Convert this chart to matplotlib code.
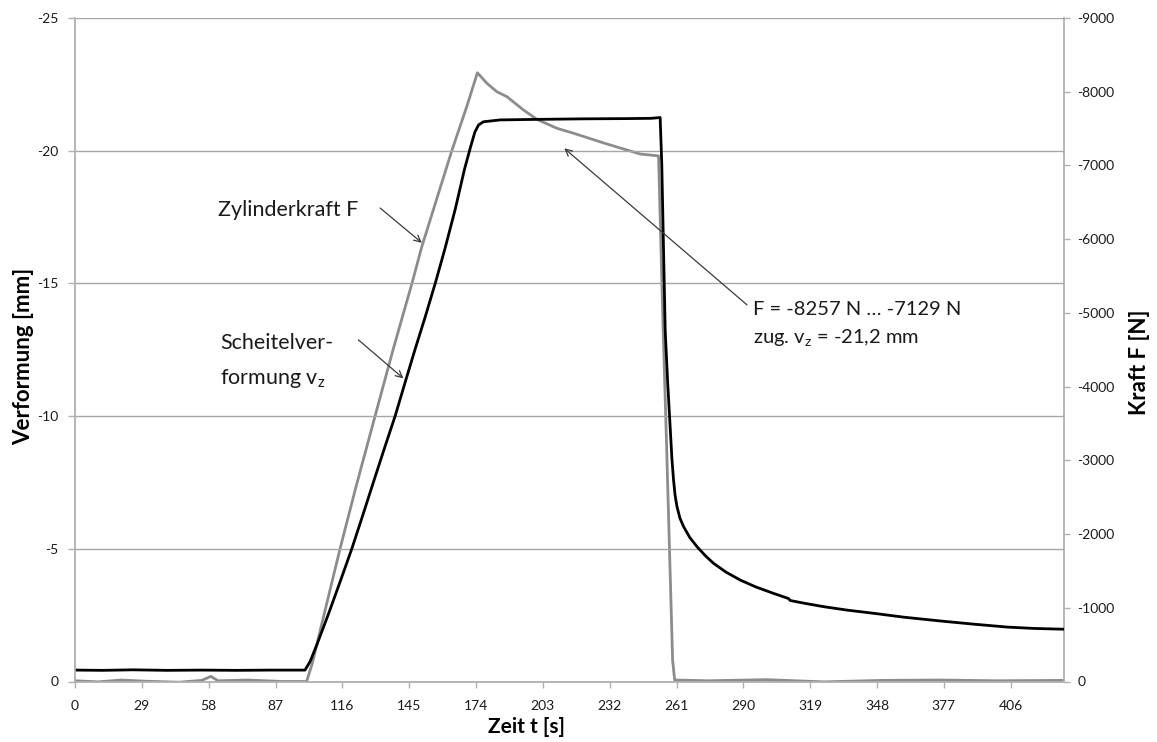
import matplotlib.pyplot as plt

plt.rcParams['font.family'] = ['Lato', 'DejaVu Sans']
plt.rcParams['mathtext.fontset'] = 'custom'
plt.rcParams['mathtext.rm'] = 'Lato'
plt.rcParams['mathtext.it'] = 'Lato'
plt.rcParams['axes.unicode_minus'] = False

# Scheitelverformung v_z [mm] (black, left axis)
t_vz = [0, 12, 25, 40, 55, 70, 85, 99.8, 102, 105, 110, 115, 120.1, 125, 130, 134.5, 138.9,
        143, 147.5, 152, 156.3, 160.5, 165, 169, 171.5, 173.5, 175.1, 177.2, 184.5, 200, 220,
        240, 250, 253.9, 254.6, 256.1, 257.2, 258.3, 259.0, 259.7, 260.4, 261.2, 262.5, 264.1,
        266.8, 269.9, 273.5, 277.1, 282.5, 288.7, 295.5, 303.1, 309.5, 310.4, 317, 324.8, 335,
        346.5, 360, 375.5, 390, 404.6, 416, 429]
vz = [-0.43, -0.42, -0.44, -0.42, -0.43, -0.42, -0.43, -0.43, -0.75, -1.4, -2.55, -3.75, -5.0,
      -6.3, -7.65, -8.85, -10.0, -11.2, -12.5, -13.75, -15.0, -16.3, -17.8, -19.3, -20.1, -20.7,
      -20.97, -21.09, -21.16, -21.18, -21.20, -21.21, -21.22, -21.25, -19.5, -13.2, -11.2, -9.5,
      -8.4, -7.6, -7.0, -6.59, -6.15, -5.83, -5.42, -5.08, -4.74, -4.45, -4.12, -3.82, -3.56,
      -3.32, -3.13, -3.05, -2.94, -2.82, -2.69, -2.57, -2.42, -2.28, -2.16, -2.05, -2.0, -1.97]

# Zylinderkraft F [N] (gray, right axis)
t_f = [0, 10, 20, 30, 45, 55, 59, 62, 75, 90, 100.5, 103.0, 108.0, 115.0, 122.0, 130.2, 138.0,
       146.2, 150.5, 156.0, 163.5, 170.0, 174.6, 178.7, 183.0, 187.4, 194.6, 200.4, 209.1,
       216.3, 230.8, 245.3, 253.2, 255.2, 256.5, 259.3, 260.2, 275, 300, 325, 350, 375, 400, 429]
force = [-10, 5, -20, -5, 10, -15, -70, -10, -20, 0, 0, -250, -900, -1800, -2650, -3600, -4500,
         -5400, -5900, -6450, -7200, -7800, -8257, -8115, -8001, -7933, -7752, -7626, -7504,
         -7437, -7291, -7155, -7129, -4768, -3411, -292, -20, -10, -25, 5, -15, -20, -10, -15]

x_ticks = [0, 29, 58, 87, 116, 145, 174, 203, 232, 261, 290, 319, 348, 377, 406]
vz_ticks = [0, -5, -10, -15, -20, -25]
f_ticks = [0, -1000, -2000, -3000, -4000, -5000, -6000, -7000, -8000, -9000]

W, H = 1157, 742
fig = plt.figure(figsize=(W / 100, H / 100), dpi=100)
ax = fig.add_axes([75 / W, 1 - 681.5 / H, (1063.7 - 75) / W, (681.5 - 18) / H])
ax2 = ax.twinx()

axis_col = '#b0b0b0'
grid_col = '#a6a6a6'

ax2.plot(t_f, force, color='#8c8c8c', lw=2.0, solid_joinstyle='round')
ax.plot(t_vz, vz, color='black', lw=2.0, solid_joinstyle='round')
ax.set_zorder(ax2.get_zorder() + 1)
ax.patch.set_visible(False)

ax.set_xlim(0, 429)
ax.set_ylim(0, -25)
ax2.set_ylim(0, -9000)
ax.set_xticks(x_ticks)
ax.set_yticks(vz_ticks)
ax2.set_yticks(f_ticks)
ax.yaxis.grid(True, color=grid_col, lw=1.0)

for s in ['top', 'right']:
    ax.spines[s].set_visible(False)
for s in ['top', 'left', 'bottom']:
    ax2.spines[s].set_visible(False)
for s in ['left', 'bottom']:
    ax.spines[s].set_color(axis_col)
    ax.spines[s].set_linewidth(1.3)
ax2.spines['right'].set_color(axis_col)
ax2.spines['right'].set_linewidth(1.3)

ax.tick_params(axis='y', direction='out', length=5, width=1, color=axis_col, pad=7,
               labelsize=10, labelcolor='#1a1a1a')
ax.tick_params(axis='x', direction='out', length=4, width=1, color=axis_col, pad=9,
               labelsize=10, labelcolor='#1a1a1a')
ax2.tick_params(axis='y', direction='out', length=4, width=1, color=axis_col, pad=6,
                labelsize=10, labelcolor='#1a1a1a')

fig.text(527 / W, 1 - 727 / H, 'Zeit t [s]', fontsize=15, fontweight='bold',
         ha='center', va='center')
fig.text(24 / W, 1 - 356 / H, 'Verformung [mm]', fontsize=16, fontweight='bold',
         rotation=90, ha='center', va='center')
fig.text(1140 / W, 1 - 362 / H, 'Kraft F [N]', fontsize=16, fontweight='bold',
         rotation=90, ha='center', va='center')

arrow = dict(arrowstyle='->', color='#3a3a3a', lw=0.9, shrinkA=0, shrinkB=0,
             mutation_scale=12)
txt_l = dict(fontsize=15.5, color='#1a1a1a', ha='left', va='center')
txt_r = dict(fontsize=14.5, color='#1a1a1a', ha='left', va='center')

ax.text(62.1, -17.77, 'Zylinderkraft F', **txt_l)
ax.annotate('', xy=(150.5, -16.53), xytext=(132.4, -17.84), arrowprops=arrow)

ax.text(62.9, -12.75, 'Scheitelver-', **txt_l)
ax.text(62.9, -11.4, r'formung v$_\mathregular{z}$', **txt_l)
ax.annotate('', xy=(142.5, -11.42), xytext=(123.0, -12.87), arrowprops=arrow)

ax.text(294.4, -14.0, 'F = -8257 N … -7129 N', **txt_r)
ax.text(294.4, -12.95, r'zug. v$_\mathregular{z}$ = -21,2 mm', **txt_r)
ax.annotate('', xy=(212.3, -20.09), xytext=(291.6, -14.19), arrowprops=arrow)

fig.savefig('out.png', dpi=100)
